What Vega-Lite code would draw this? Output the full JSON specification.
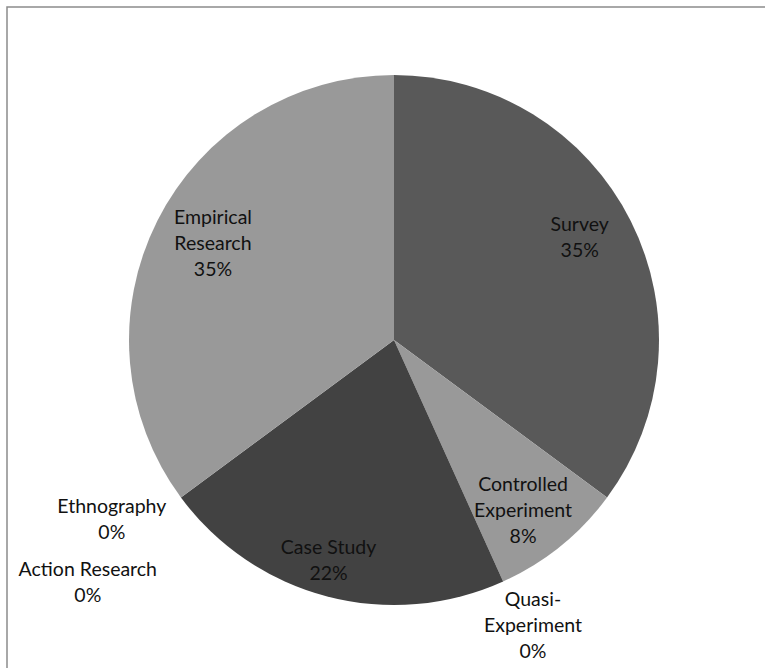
{
  "$schema": "https://vega.github.io/schema/vega-lite/v6.json",
  "width": 774,
  "height": 666,
  "autosize": {"type": "none"},
  "padding": {"left": 7, "top": 7, "right": -16, "bottom": -5},
  "background": "white",
  "view": {"stroke": "#8c8c8c", "strokeWidth": 1.5, "fill": "white"},
  "config": {
    "view": {"stroke": "#8c8c8c", "strokeWidth": 1.5},
    "text": {"font": "Lato", "fontSize": 19.5, "lineHeight": 26, "fill": "#111111", "align": "center", "baseline": "middle"}
  },
  "data": {
    "values": [
      {"order": 1, "method": "Survey", "count": 13, "label": ["Survey", "35%"]},
      {"order": 2, "method": "Controlled Experiment", "count": 3, "label": ["Controlled", "Experiment", "8%"]},
      {"order": 3, "method": "Quasi-Experiment", "count": 0, "label": ["Quasi-", "Experiment", "0%"]},
      {"order": 4, "method": "Case Study", "count": 8, "label": ["Case Study", "22%"]},
      {"order": 5, "method": "Action Research", "count": 0, "label": ["Action Research", "0%"]},
      {"order": 6, "method": "Ethnography", "count": 0, "label": ["Ethnography", "0%"]},
      {"order": 7, "method": "Empirical Research", "count": 13, "label": ["Empirical", "Research", "35%"]}
    ]
  },
  "encoding": {
    "theta": {"field": "count", "type": "quantitative", "stack": true},
    "order": {"field": "order", "type": "quantitative"}
  },
  "layer": [
    {
      "mark": {"type": "arc", "radius": 265, "stroke": null},
      "encoding": {
        "color": {
          "field": "method",
          "type": "nominal",
          "scale": {
            "domain": ["Survey", "Controlled Experiment", "Quasi-Experiment", "Case Study", "Action Research", "Ethnography", "Empirical Research"],
            "range": ["#595959", "#999999", "#bfbfbf", "#424242", "#7f7f7f", "#262626", "#999999"]
          },
          "legend": null
        }
      }
    },
    {
      "mark": {"type": "text", "radius": 208, "dy": -21},
      "encoding": {"text": {"condition": {"test": "datum.method == 'Survey'", "field": "label"}, "value": ""}}
    },
    {
      "mark": {"type": "text", "radius": 205, "dx": 2, "dy": -30},
      "encoding": {"text": {"condition": {"test": "datum.method == 'Empirical Research'", "field": "label"}, "value": ""}}
    },
    {
      "mark": {"type": "text", "radius": 228, "dx": -8, "dy": -13},
      "encoding": {"text": {"condition": {"test": "datum.method == 'Case Study'", "field": "label"}, "value": ""}}
    },
    {
      "mark": {"type": "text", "radius": 215, "dx": -6, "dy": -22},
      "encoding": {"text": {"condition": {"test": "datum.method == 'Controlled Experiment'", "field": "label"}, "value": ""}}
    },
    {
      "mark": {"type": "text", "radius": 318, "dx": 8, "dy": -30},
      "encoding": {"text": {"condition": {"test": "datum.method == 'Quasi-Experiment'", "field": "label"}, "value": ""}}
    },
    {
      "mark": {"type": "text", "radius": 300, "dx": -41, "dy": -11},
      "encoding": {"text": {"condition": {"test": "datum.method == 'Ethnography'", "field": "label"}, "value": ""}}
    },
    {
      "mark": {"type": "text", "radius": 300, "dx": -65, "dy": 52},
      "encoding": {"text": {"condition": {"test": "datum.method == 'Action Research'", "field": "label"}, "value": ""}}
    }
  ]
}
